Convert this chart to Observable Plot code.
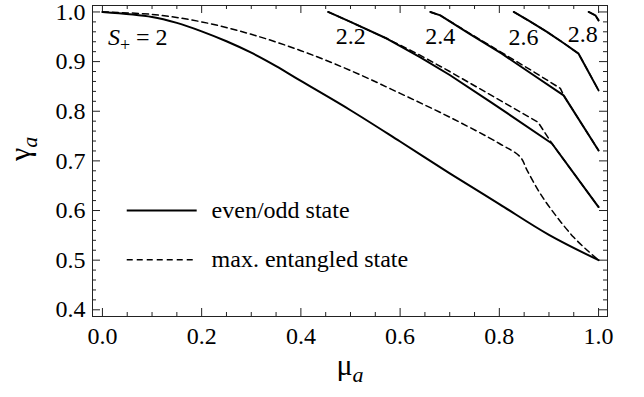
<!DOCTYPE html>
<html><head><meta charset="utf-8">
<script src="https://cdn.jsdelivr.net/npm/d3@7"></script>
<script src="https://cdn.jsdelivr.net/npm/@observablehq/plot@0.6"></script>
<style>
body{margin:0;background:#fff;}
#chart svg{display:block;}
#chart svg, #chart svg text, #chart svg g { font-family: "Liberation Serif", "Times New Roman", serif !important; }
</style></head><body><div id="chart"></div>
<script>
// ---------- data ----------
const muS20 = [0, 0.1, 0.15, 0.2, 0.25, 0.3, 0.35, 0.4, 0.5, 0.6, 0.7, 0.8, 0.9, 1.0];
const evenOddS20 = [1.0, 0.990, 0.978, 0.961, 0.941, 0.918, 0.891, 0.861, 0.802, 0.739, 0.675, 0.613, 0.551, 0.500];
const muMaxS20 = [0, 0.1, 0.2, 0.3, 0.4, 0.5, 0.6, 0.7, 0.8, 0.842, 0.856, 0.8825, 0.916, 0.95, 0.977, 1.0];
const maxEntS20 = [1.0, 0.995, 0.980, 0.955, 0.922, 0.882, 0.836, 0.788, 0.735, 0.708, 0.681, 0.634, 0.587, 0.546, 0.520, 0.500];

const muS22 = [0.455, 0.5, 0.574, 0.64, 0.70, 0.782, 0.906, 1.0];
const evenOddS22 = [1.0, 0.980, 0.946, 0.909, 0.873, 0.819, 0.735, 0.607];
const muMaxS22 = [0.455, 0.5, 0.574, 0.64, 0.70, 0.775, 0.878, 0.906, 1.0];
const maxEntS22 = [1.0, 0.980, 0.946, 0.913, 0.880, 0.837, 0.778, 0.735, 0.607];

const muS24 = [0.661, 0.681, 0.74, 0.805, 0.87, 0.9295, 1.0];
const evenOddS24 = [1.0, 0.993, 0.956, 0.916, 0.872, 0.832, 0.721];
const muMaxS24 = [0.661, 0.681, 0.74, 0.805, 0.87, 0.923, 0.9295, 1.0];
const maxEntS24 = [1.0, 0.993, 0.957, 0.918, 0.879, 0.846, 0.832, 0.721];

const muS26 = [0.829, 0.86, 0.896, 0.93, 0.9597, 1.0];
const evenOddS26 = [1.0, 0.982, 0.960, 0.937, 0.916, 0.842];
const maxEntS26 = [1.0, 0.982, 0.960, 0.937, 0.916, 0.842];

const muS28 = [0.98, 0.9935, 1.0];
const evenOddS28 = [1.0, 0.9933, 0.983];
const maxEntS28 = [1.0, 0.9933, 0.983];

const majorX = [0, 0.2, 0.4, 0.6, 0.8, 1.0];
const minorX = d3.range(0, 21).map(i => i * 0.05).filter(v => Math.abs(v * 5 - Math.round(v * 5)) > 1e-6);
const majorY = [0.4, 0.5, 0.6, 0.7, 0.8, 0.9, 1.0];
const minorY = d3.range(0, 31).map(i => 0.4 + i * 0.02).filter(v => Math.abs(v * 10 - Math.round(v * 10)) > 1e-6);

const curveLabels = [
  {text: "2.2", mu: 0.5005, g: 0.951},
  {text: "2.4", mu: 0.681, g: 0.951},
  {text: "2.6", mu: 0.8485, g: 0.948},
  {text: "2.8", mu: 0.968, g: 0.955}
];
const seriesLabel = [{text: "S+ = 2", mu: 0.011, g: 0.948}];
const legendRows = [
  {label: "even/odd state", g: 0.600},
  {label: "max. entangled state", g: 0.501}
];
const legendLayout = {x0: 0.049, x1: 0.190, xText: 0.220};

// ---------- build rows ----------
const rows = [];
function add(S, state, mus, gs) { mus.forEach((m, i) => rows.push({S, state, mu: m, gamma: gs[i]})); }
add(2.0, "even", muS20, evenOddS20);
add(2.0, "max", muMaxS20, maxEntS20);
add(2.2, "even", muS22, evenOddS22);
add(2.2, "max", muMaxS22, maxEntS22);
add(2.4, "even", muS24, evenOddS24);
add(2.4, "max", muMaxS24, maxEntS24);
add(2.6, "even", muS26, evenOddS26);
add(2.6, "max", muS26, maxEntS26);
add(2.8, "even", muS28, evenOddS28);
add(2.8, "max", muS28, maxEntS28);

// ---------- layout ----------
const W = 644, H = 397, mL = 92, mR = 37, mT = 5, mB = 81;
const innerW = W - mL - mR, innerH = H - mT - mB;
const FONT = "'Liberation Serif', 'Times New Roman', serif";
const ink = "#222";
const smooth = d => d.S === 2.0;

const svg = Plot.plot({
  width: W, height: H,
  marginLeft: mL, marginRight: mR, marginTop: mT, marginBottom: mB,
  style: {fontFamily: FONT, fontSize: "24px", background: "white", color: "black"},
  x: {domain: [-0.02, 1.018]},
  y: {domain: [0.3865, 1.013]},
  marks: [
    Plot.axisX({ticks: majorX, tickSize: 0, tickPadding: 10, tickFormat: d3.format(".1f"), label: null, fontSize: 24}),
    Plot.axisY({ticks: majorY, tickSize: 0, tickPadding: 7, tickFormat: d3.format(".1f"), label: null, fontSize: 24}),
    Plot.ruleX(majorX, {stroke: ink, insetTop: innerH - 8}),
    Plot.ruleX(majorX, {stroke: ink, insetBottom: innerH - 8}),
    Plot.ruleX(minorX, {stroke: ink, insetTop: innerH - 4}),
    Plot.ruleX(minorX, {stroke: ink, insetBottom: innerH - 4}),
    Plot.ruleY(majorY, {stroke: ink, insetRight: innerW - 8}),
    Plot.ruleY(majorY, {stroke: ink, insetLeft: innerW - 8}),
    Plot.ruleY(minorY, {stroke: ink, insetRight: innerW - 4}),
    Plot.ruleY(minorY, {stroke: ink, insetLeft: innerW - 4}),
    Plot.frame({stroke: ink}),
    Plot.line(rows.filter(d => d.state === "even" && smooth(d)), {x: "mu", y: "gamma", z: "S", stroke: "black", strokeWidth: 2, curve: "catmull-rom"}),
    Plot.line(rows.filter(d => d.state === "even" && !smooth(d)), {x: "mu", y: "gamma", z: "S", stroke: "black", strokeWidth: 2, curve: "linear"}),
    Plot.line(rows.filter(d => d.state === "max" && smooth(d)), {x: "mu", y: "gamma", z: "S", stroke: "black", strokeWidth: 1.5, strokeDasharray: "6,4", curve: "catmull-rom"}),
    Plot.line(rows.filter(d => d.state === "max" && !smooth(d)), {x: "mu", y: "gamma", z: "S", stroke: "black", strokeWidth: 1.5, strokeDasharray: "6,4", curve: "linear"}),
    Plot.text(curveLabels, {x: "mu", y: "g", text: "text", fontSize: 24, textAnchor: "middle", fill: "black"}),
    Plot.text(seriesLabel, {x: "mu", y: "g", text: "text", fontSize: 24, textAnchor: "start", fill: "black"}),
    Plot.link(legendRows.slice(0, 1), {x1: () => legendLayout.x0, x2: () => legendLayout.x1, y1: "g", y2: "g", stroke: "black", strokeWidth: 2}),
    Plot.link(legendRows.slice(1), {x1: () => legendLayout.x0, x2: () => legendLayout.x1, y1: "g", y2: "g", stroke: "black", strokeWidth: 1.5, strokeDasharray: "6,4"}),
    Plot.text(legendRows, {x: () => legendLayout.xText, y: "g", text: "label", fontSize: 24, textAnchor: "start", fill: "black"}),
    Plot.text(["γa"], {frameAnchor: "left", dx: -72, rotate: -90, fontSize: 30, text: d => d, fill: "black"}),
    Plot.text(["μa"], {frameAnchor: "bottom", dy: 58, fontSize: 30, text: d => d, fill: "black"})
  ]
});

function rich(content, parts) {
  d3.select(svg).selectAll("text").filter(function () { return this.textContent === content; }).each(function () {
    const t = d3.select(this);
    t.text(null);
    parts.forEach(p => {
      const ts = t.append("tspan").text(p.t);
      if (p.italic) ts.attr("font-style", "italic");
      if (p.size) ts.attr("font-size", p.size);
      if (p.dy) ts.attr("dy", p.dy);
    });
  });
}
rich("S+ = 2", [{t: "S", italic: true}, {t: "+", size: "18px", dy: "6"}, {t: " = 2", dy: "-6"}]);
rich("γa", [{t: "γ"}, {t: "a", italic: true, size: "22px", dy: "7"}]);
rich("μa", [{t: "μ"}, {t: "a", italic: true, size: "22px", dy: "7"}]);

document.getElementById("chart").appendChild(svg);
</script>
</body></html>
